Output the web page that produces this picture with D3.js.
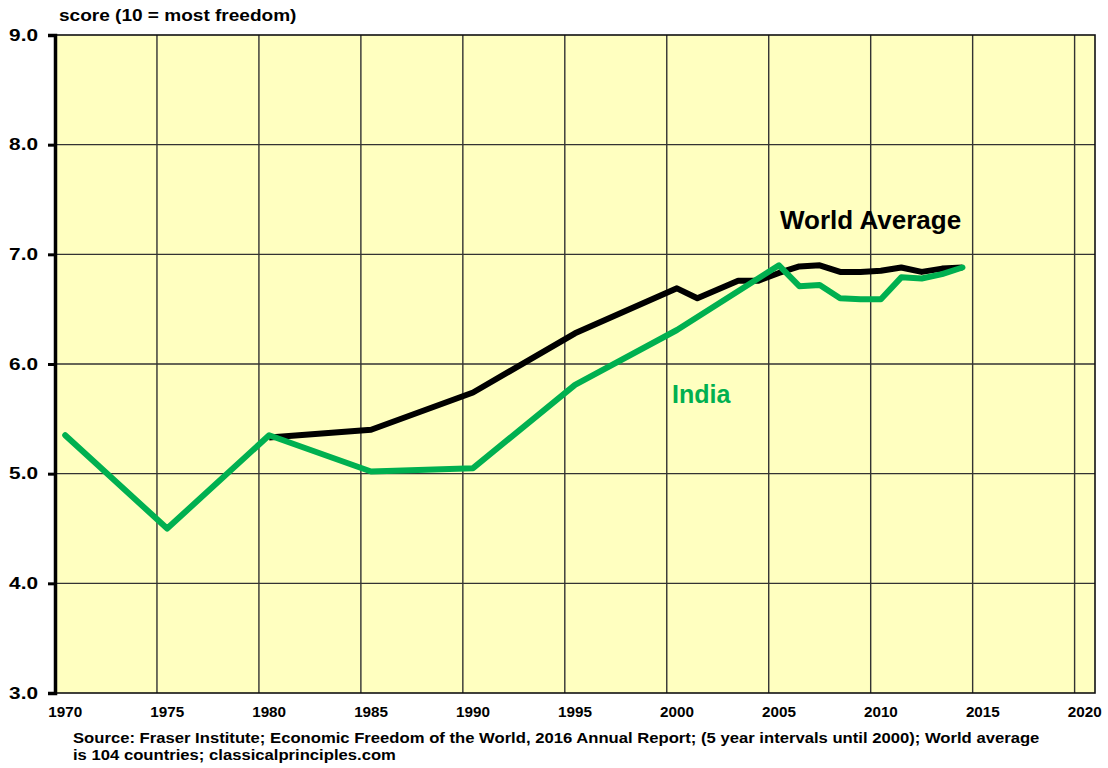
<!DOCTYPE html>
<html>
<head>
<meta charset="utf-8">
<script src="https://cdn.jsdelivr.net/npm/d3@7"></script>
<style>
  body { margin: 0; background: #fff; }
  svg { display: block; font-family: 'Liberation Sans', Arial, sans-serif; font-weight: bold; }
</style>
</head>
<body>
<svg id="chart" width="1108" height="768"></svg>
<script>
// categories: one band per year, 1970..2020
const years = d3.range(1970, 2021)
const tickYears = d3.range(1970, 2021, 5)
const yTicks = [3, 4, 5, 6, 7, 8, 9]

// India series (5 year intervals until 2000, then yearly)
const indiaYears = [1970, 1975, 1980, 1985, 1990, 1995, 2000, 2005, 2006, 2007, 2008, 2009, 2010, 2011, 2012, 2013, 2014]
const indiaScores = [5.35, 4.50, 5.35, 5.02, 5.05, 5.81, 6.31, 6.90, 6.71, 6.72, 6.60, 6.59, 6.59, 6.79, 6.78, 6.82, 6.88]

// World average (104 countries)
const worldYears = [1980, 1985, 1990, 1995, 2000, 2001, 2002, 2003, 2004, 2005, 2006, 2007, 2008, 2009, 2010, 2011, 2012, 2013, 2014]
const worldScores = [5.33, 5.40, 5.74, 6.28, 6.69, 6.60, 6.68, 6.76, 6.76, 6.83, 6.89, 6.90, 6.84, 6.84, 6.85, 6.88, 6.84, 6.87, 6.88]

const margin = { left: 55, right: 13, top: 35, bottom: 75 }
const width = 1108, height = 768
const svg = d3.select('#chart')

// the small texts in the original are drawn a bit wider than Arial
const stretch = 1.19

const x = d3.scaleBand()
  .domain(years)
  .range([margin.left, width - margin.right])
const y = d3.scaleLinear()
  .domain([3, 9])
  .range([height - margin.bottom, margin.top])

const px = yr => x(yr) + x.bandwidth() / 2

// plot background
svg.append('rect')
  .attr('x', margin.left)
  .attr('y', margin.top)
  .attr('width', width - margin.right - margin.left)
  .attr('height', y(3) - y(9))
  .attr('fill', '#ffffc0')

// vertical gridlines at the start of every 5th band
svg.append('g')
  .selectAll('line')
  .data(tickYears.slice(1))
  .join('line')
  .attr('x1', d => x(d)).attr('x2', d => x(d))
  .attr('y1', y(9)).attr('y2', y(3))
  .attr('stroke', '#333')
  .attr('stroke-width', 1.4)

// horizontal gridlines
svg.append('g')
  .selectAll('line')
  .data(yTicks.slice(1, -1))
  .join('line')
  .attr('x1', margin.left).attr('x2', width - margin.right)
  .attr('y1', d => y(d)).attr('y2', d => y(d))
  .attr('stroke', '#333')
  .attr('stroke-width', 1.4)

// plot frame
svg.append('rect')
  .attr('x', margin.left)
  .attr('y', margin.top)
  .attr('width', width - margin.right - margin.left)
  .attr('height', y(3) - y(9))
  .attr('fill', 'none')
  .attr('stroke', '#111')
  .attr('stroke-width', 1.6)

// y axis
const yStretch = 1.3
const yAxis = svg.append('g')
  .attr('transform', `translate(${margin.left},0)`)
  .call(d3.axisLeft(y).tickValues(yTicks).tickFormat(d3.format('.1f')).tickSize(7))
yAxis.select('.domain').attr('stroke', '#000').attr('stroke-width', 3.5)
yAxis.selectAll('.tick line').attr('stroke', '#000').attr('stroke-width', 3)
yAxis.selectAll('.tick text')
  .attr('x', -17 / yStretch)
  .attr('transform', `scale(${yStretch},1)`)
  .attr('font-size', 16)
  .attr('font-family', 'Liberation Sans, Arial, sans-serif')
  .attr('font-weight', 'bold')
  .attr('fill', '#000')

// x axis (labels only)
const xAxis = svg.append('g')
  .attr('transform', `translate(0,${y(3)})`)
  .call(d3.axisBottom(x).tickValues(tickYears).tickSize(0).tickPadding(14))
xAxis.select('.domain').remove()
xAxis.selectAll('.tick text')
  .attr('transform', 'scale(1.09,1)')
  .attr('font-size', 14)
  .attr('font-family', 'Liberation Sans, Arial, sans-serif')
  .attr('font-weight', 'bold')
  .attr('fill', '#000')

const line = d3.line()
  .x(d => px(d[0]))
  .y(d => y(d[1]))

svg.append('path')
  .datum(d3.zip(worldYears, worldScores))
  .attr('d', line)
  .attr('fill', 'none')
  .attr('stroke', '#000')
  .attr('stroke-width', 6)
  .attr('stroke-linejoin', 'round')

svg.append('path')
  .datum(d3.zip(indiaYears, indiaScores))
  .attr('d', line)
  .attr('fill', 'none')
  .attr('stroke', '#00b050')
  .attr('stroke-width', 6)
  .attr('stroke-linejoin', 'round')
  .attr('stroke-linecap', 'round')

// series labels
svg.append('text')
  .attr('x', 780).attr('y', 229)
  .attr('font-size', 26)
  .attr('fill', '#000')
  .text('World Average')

svg.append('text')
  .attr('x', 672).attr('y', 403)
  .attr('font-size', 25)
  .attr('fill', '#00b050')
  .text('India')

// axis title
svg.append('text')
  .attr('transform', `translate(59,21) scale(${stretch},1)`)
  .attr('font-size', 16)
  .attr('fill', '#000')
  .text('score (10 = most freedom)')

// source note
const note = svg.append('text')
  .attr('transform', `translate(73,743) scale(${stretch},1)`)
  .attr('font-size', 14)
  .attr('fill', '#000')
note.append('tspan')
  .text('Source: Fraser Institute; Economic Freedom of the World, 2016 Annual Report; (5 year intervals until 2000); World average')
note.append('tspan')
  .attr('x', 0).attr('dy', 17)
  .text('is 104 countries; classicalprinciples.com')
</script>
</body>
</html>
